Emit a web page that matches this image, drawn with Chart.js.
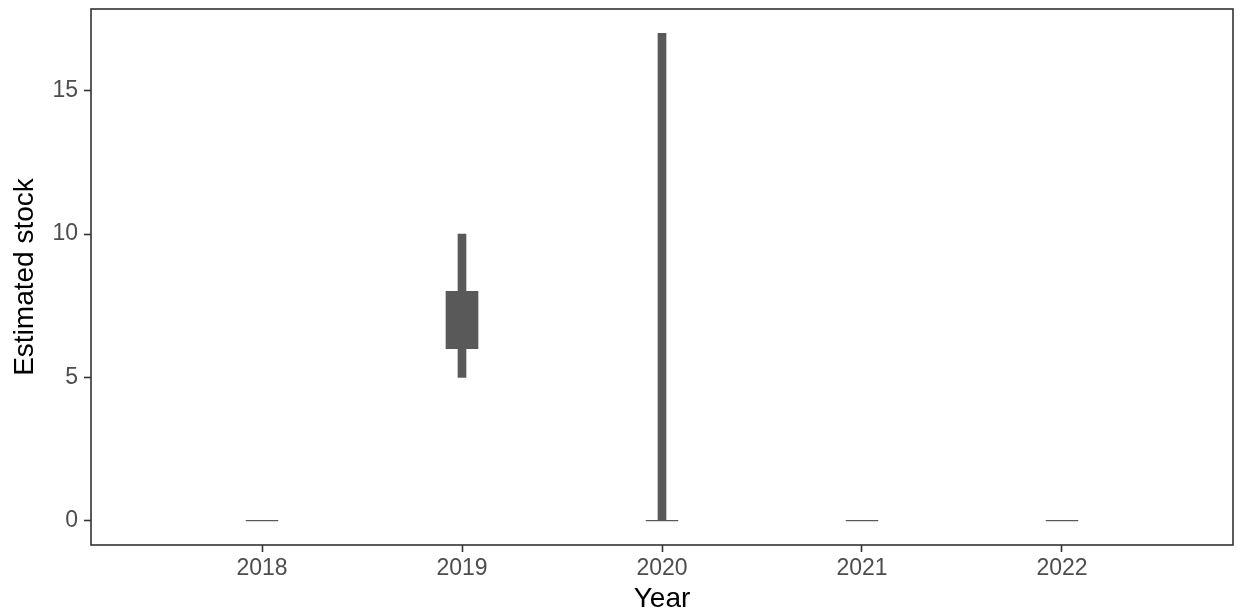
<!DOCTYPE html>
<html>
<head>
<meta charset="utf-8">
<script src="https://cdn.jsdelivr.net/npm/chart.js@4.4.0/dist/chart.umd.min.js"></script>
<style>
  html, body { margin: 0; padding: 0; background: #ffffff; }
  #wrap { width: 1238px; height: 616px; position: relative; }
</style>
</head>
<body>
<div id="wrap"><canvas id="c" width="1238" height="616"></canvas></div>
<script>
// ---- data ----
const years = [2018, 2019, 2020, 2021, 2022];
const outerLow  = [0, 5, 0, 0, 0];
const outerHigh = [0, 10, 17, 0, 0];
const innerLow  = [0, 6, 0, 0, 0];
const innerHigh = [0, 8, 0, 0, 0];
const yTicks = [0, 5, 10, 15];
const xLabel = 'Year';
const yLabel = 'Estimated stock';

const barColor = '#595959';
const axisColor = '#333333';
const tickTextColor = '#4D4D4D';
const fontFamily = "'Liberation Sans', Arial, Helvetica, sans-serif";

const outerData = years.map((yr, i) => ({ x: yr, y: [outerLow[i], outerHigh[i]] }));
const innerData = years.map((yr, i) => ({ x: yr, y: [innerLow[i], innerHigh[i]] }));
const flatData = years
  .map((yr, i) => ({ x: yr, y: innerLow[i], flat: innerLow[i] === innerHigh[i] }))
  .filter(d => d.flat)
  .map(d => ({ x: d.x, y: d.y }));

const borderPlugin = {
  id: 'panelBorder',
  afterDraw(chart) {
    const { ctx, chartArea: a } = chart;
    ctx.save();
    ctx.strokeStyle = axisColor;
    ctx.lineWidth = 1.6;
    ctx.strokeRect(a.left, a.top, a.right - a.left, a.bottom - a.top);
    ctx.restore();
  }
};

function zeroPad(scale) {
  scale.paddingTop = 0; scale.paddingBottom = 0;
  scale.paddingLeft = 0; scale.paddingRight = 0;
}

new Chart(document.getElementById('c'), {
  type: 'bar',
  data: {
    datasets: [
      { label: 'range', data: outerData, backgroundColor: barColor, barThickness: 8, grouped: false, borderWidth: 0, order: 2 },
      { label: 'iqr', data: innerData, backgroundColor: barColor, barThickness: 32, grouped: false, borderWidth: 0, order: 1 },
      { type: 'scatter', label: 'flat', data: flatData, pointStyle: 'line', pointRadius: 16, pointHoverRadius: 16,
        borderColor: barColor, backgroundColor: barColor, pointBorderWidth: 1.2, borderWidth: 1.2, showLine: false, order: 0 }
    ]
  },
  options: {
    responsive: false,
    animation: false,
    events: [],
    layout: { autoPadding: false, padding: { top: 9, right: 5, left: 0, bottom: 0 } },
    plugins: { legend: { display: false }, tooltip: { enabled: false } },
    scales: {
      x: {
        type: 'linear',
        offset: false,
        min: 2017.145,
        max: 2022.855,
        afterBuildTicks(scale) { scale.ticks = years.map(v => ({ value: v })); },
        afterFit(scale) { scale.height = 71; zeroPad(scale); },
        ticks: {
          color: tickTextColor,
          font: { family: fontFamily, size: 23 },
          padding: 3,
          maxRotation: 0,
          callback: v => String(v)
        },
        grid: { display: true, drawOnChartArea: false, drawTicks: true, tickLength: 7, tickColor: axisColor, tickWidth: 1.6, offset: false },
        border: { display: false },
        title: { display: true, text: xLabel, color: '#000000', font: { family: fontFamily, size: 28 }, padding: { top: 0, bottom: 0 } }
      },
      y: {
        type: 'linear',
        min: -0.85,
        max: 17.85,
        afterBuildTicks(scale) { scale.ticks = yTicks.map(v => ({ value: v })); },
        afterFit(scale) { scale.width = 91; zeroPad(scale); },
        ticks: {
          color: tickTextColor,
          font: { family: fontFamily, size: 23 },
          padding: 6,
          callback: v => String(v)
        },
        grid: { display: true, drawOnChartArea: false, drawTicks: true, tickLength: 7, tickColor: axisColor, tickWidth: 1.6 },
        border: { display: false },
        title: { display: true, text: yLabel, color: '#000000', font: { family: fontFamily, size: 28 }, padding: { top: 8, bottom: 0 } }
      }
    }
  },
  plugins: [borderPlugin]
});
</script>
</body>
</html>
